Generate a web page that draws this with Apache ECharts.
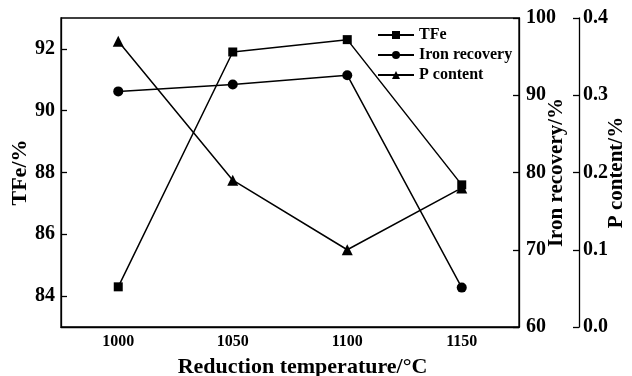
<!DOCTYPE html>
<html>
<head>
<meta charset="utf-8">
<script src="https://cdn.jsdelivr.net/npm/echarts@6/dist/echarts.min.js"></script>
<style>
  html, body { margin: 0; padding: 0; background: #fff; }
  #chart { width: 632px; height: 376px; }
</style>
</head>
<body>
<div id="chart"></div>
<script>
// data
const temps = ["1000", "1050", "1100", "1150"];
const tfe = [84.3, 91.9, 92.3, 87.6];
const ironRecovery = [90.5, 91.4, 92.6, 65.1];
const pContent = [0.37, 0.19, 0.10, 0.18];
const tfeTicks = [84, 86, 88, 90, 92];

const font = "Liberation Serif";
const black = "#000";

const myChart = echarts.init(document.getElementById("chart"));

// shared axis look
const lineStyle = { color: black, width: 1.3 };
const labelStyle = { color: black, fontFamily: font, fontWeight: "bold", fontSize: 20 };
const nameStyle = { color: black, fontFamily: font, fontWeight: "bold", fontSize: 21 };

const option = {
  backgroundColor: "#fff",
  animation: false,
  grid: {
    left: 61,
    right: 113,
    top: 18,
    bottom: 49,
    outerBoundsMode: "none",
    containLabel: false,
    show: true,
    borderColor: black,
    borderWidth: 1.3
  },
  legend: {
    orient: "vertical",
    left: 372,
    top: 22,
    itemWidth: 36,
    itemHeight: 10,
    itemGap: 4,
    textStyle: { color: black, fontFamily: font, fontWeight: "bold", fontSize: 16 },
    data: ["TFe", "Iron recovery", "P content"]
  },
  xAxis: {
    type: "category",
    data: temps,
    boundaryGap: true,
    name: "Reduction temperature/°C",
    nameLocation: "middle",
    nameGap: 29,
    nameMoveOverlap: false,
    nameTextStyle: { color: black, fontFamily: font, fontWeight: "bold", fontSize: 22, padding: [0, 0, 0, 25] },
    axisLine: { lineStyle: lineStyle },
    axisTick: { alignWithLabel: true, inside: true, length: 6, lineStyle: lineStyle },
    axisLabel: { color: black, fontFamily: font, fontWeight: "bold", fontSize: 16, margin: 7 },
    splitLine: { show: false }
  },
  yAxis: [
    {
      type: "value",
      min: 83,
      max: 93,
      name: "TFe/%",
      nameLocation: "middle",
      nameGap: 30,
      nameMoveOverlap: false,
      nameTextStyle: { color: black, fontFamily: font, fontWeight: "bold", fontSize: 22 },
      axisLine: { show: true, lineStyle: lineStyle },
      axisTick: { show: true, inside: true, length: 6, lineStyle: lineStyle, customValues: tfeTicks },
      axisLabel: Object.assign({ margin: 6, customValues: tfeTicks }, labelStyle),
      splitLine: { show: false }
    },
    {
      type: "value",
      position: "right",
      min: 60,
      max: 100,
      interval: 10,
      name: "Iron recovery/%",
      nameLocation: "middle",
      nameGap: 27,
      nameMoveOverlap: false,
      nameTextStyle: nameStyle,
      axisLine: { show: true, lineStyle: lineStyle },
      axisTick: { show: true, inside: true, length: 6, lineStyle: lineStyle },
      axisLabel: Object.assign({ margin: 7 }, labelStyle),
      splitLine: { show: false }
    },
    {
      type: "value",
      position: "right",
      offset: 60,
      min: 0,
      max: 0.4,
      interval: 0.1,
      name: "P content/%",
      nameLocation: "middle",
      nameGap: 27,
      nameMoveOverlap: false,
      nameTextStyle: nameStyle,
      axisLine: { show: true, lineStyle: lineStyle },
      axisTick: { show: true, inside: true, length: 6, lineStyle: lineStyle },
      axisLabel: Object.assign({ margin: 4, formatter: v => v.toFixed(1) }, labelStyle),
      splitLine: { show: false }
    }
  ],
  series: [
    {
      name: "TFe",
      type: "line",
      yAxisIndex: 0,
      data: tfe,
      symbol: "rect",
      symbolSize: 9,
      itemStyle: { color: black },
      lineStyle: { color: black, width: 1.5 }
    },
    {
      name: "Iron recovery",
      type: "line",
      yAxisIndex: 1,
      data: ironRecovery,
      symbol: "circle",
      symbolSize: 10,
      itemStyle: { color: black },
      lineStyle: { color: black, width: 1.5 }
    },
    {
      name: "P content",
      type: "line",
      yAxisIndex: 2,
      data: pContent,
      symbol: "triangle",
      symbolSize: 11,
      itemStyle: { color: black },
      lineStyle: { color: black, width: 1.5 }
    }
  ]
};
myChart.setOption(option);
</script>
</body>
</html>
